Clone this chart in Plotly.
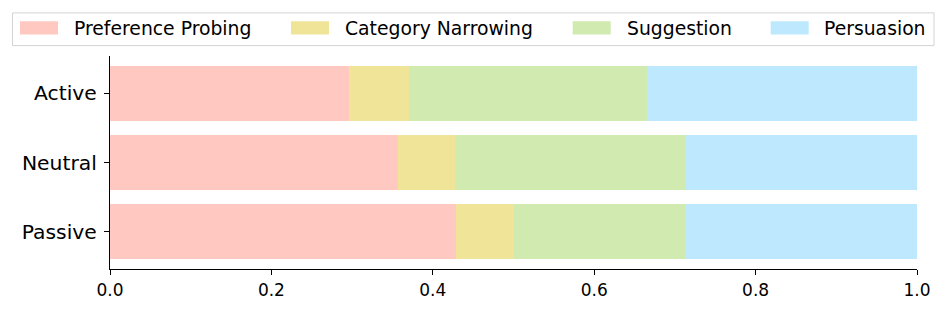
import plotly.graph_objects as go

# ---- data ----
groups = ["Passive", "Neutral", "Active"]
series_names = ["Preference Probing", "Category Narrowing", "Suggestion", "Persuasion"]
preference_probing = [0.429, 0.357, 0.296]
category_narrowing = [0.071, 0.071, 0.074]
suggestion = [0.214, 0.286, 0.296]
persuasion = [0.286, 0.286, 0.334]
x_ticks = [0.0, 0.2, 0.4, 0.6, 0.8, 1.0]

series_values = [preference_probing, category_narrowing, suggestion, persuasion]
colors = ["#FFC9C1", "#F0E499", "#D0EAB0", "#BDE8FD"]

W, H = 947, 312
L, R, T, B = 110, 917, 56, 271  # plot area in px


def px(x):
    return (x - L) / (R - L)


def py(y):
    return (B - y) / (B - T)


fig = go.Figure()
ypos = list(range(len(groups)))
for name, vals, col in zip(series_names, series_values, colors):
    fig.add_trace(go.Bar(
        y=ypos, x=vals, name=name, orientation="h",
        marker=dict(color=col, line=dict(width=0)),
        width=0.8, showlegend=False,
    ))

font_family = "DejaVu Sans"

# legend (manual, matplotlib style)
shapes = [dict(type="rect", xref="paper", yref="paper",
               x0=px(12.5), x1=px(934), y0=py(45.5), y1=py(12.5),
               line=dict(color="#D3D3D3", width=1), fillcolor="rgba(255,255,255,0.8)",
               layer="above")]
annotations = []
sw_x = [20, 291, 572.7, 770.7]
tx_x = [74, 345, 626.7, 824]
for i, (name, col) in enumerate(zip(series_names, colors)):
    shapes.append(dict(type="rect", xref="paper", yref="paper",
                       x0=px(sw_x[i]), x1=px(sw_x[i] + 38), y0=py(34.3), y1=py(21),
                       line=dict(width=0), fillcolor=col, layer="above"))
    annotations.append(dict(xref="paper", yref="paper", x=px(tx_x[i]), y=py(28),
                            xanchor="left", yanchor="middle", showarrow=False,
                            text=name, borderpad=0, xshift=-1,
                            font=dict(family=font_family, size=18.8, color="black")))

fig.update_layout(
    width=W, height=H,
    margin=dict(l=L, r=W - R, t=T, b=H - B, pad=0),
    barmode="stack",
    bargap=0.2,
    plot_bgcolor="white", paper_bgcolor="white",
    font=dict(family=font_family, color="black"),
    shapes=shapes, annotations=annotations,
    xaxis=dict(range=[0, 1], tickvals=x_ticks, ticktext=[f"{v:.1f}" for v in x_ticks],
               showgrid=False, zeroline=False, showline=True, linecolor="black",
               linewidth=1.3, ticks="outside", ticklen=5, tickwidth=1.3, tickcolor="black",
               tickfont=dict(size=17, family=font_family, color="black")),
    yaxis=dict(range=[-0.54, 2.54], tickvals=ypos, ticktext=groups,
               showgrid=False, zeroline=False, showline=True, linecolor="black",
               linewidth=1.3, ticks="outside", ticklen=5, tickwidth=1.3, tickcolor="black",
               ticklabelstandoff=3,
               tickfont=dict(size=20.3, family=font_family, color="black")),
)

fig.write_html("out.html",
               config={"displayModeBar": False},
               post_script="document.body.style.margin='0';document.body.style.overflow='hidden';")
